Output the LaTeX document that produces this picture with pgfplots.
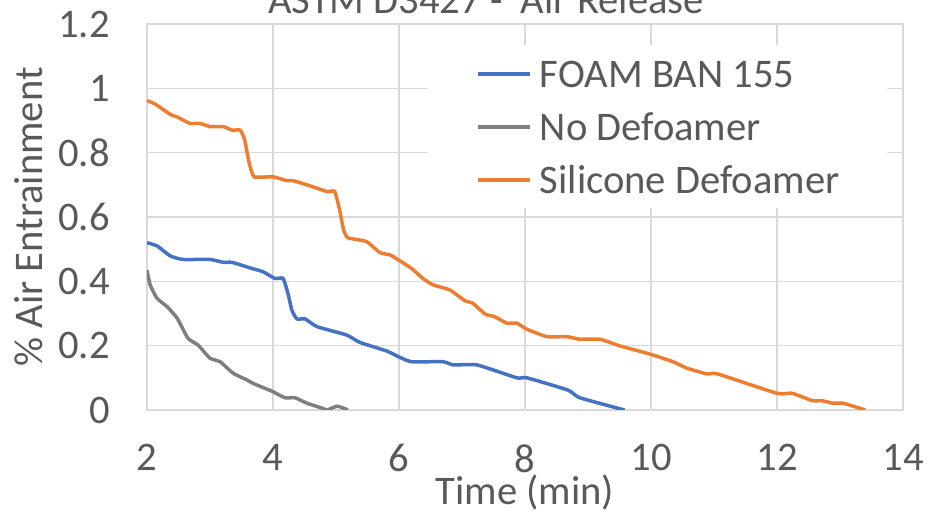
\documentclass[border=0pt]{standalone}
\usepackage{fontspec}
\setmainfont{Carlito}
\usepackage{pgfplots}
\pgfplotsset{compat=1.18}
\definecolor{gridgray}{HTML}{D9D9D9}
\definecolor{txtgray}{HTML}{595959}
\definecolor{sblue}{HTML}{4472C4}
\definecolor{sorange}{HTML}{ED7D31}
\definecolor{sgray}{HTML}{7F7F7F}
\begin{document}
\begin{tikzpicture}[font=\fontsize{20.3}{24}\selectfont]
\pgfplotsset{
  every axis x label/.style={at={(axis description cs:0.5,-0.245)}, anchor=base},
  every axis y label/.style={at={(axis description cs:-0.1376,0.5)}, rotate=90, anchor=base},
  every axis title/.style={at={(axis description cs:0.4484,1.0259)}, anchor=base},
}
\begin{axis}[
  scale only axis,
  width=378pt, height=193pt,
  xmin=2, xmax=14, ymin=0, ymax=1.2,
  xtick={2,4,...,14},
  ytick={0,0.2,...,1.2},
  grid=major,
  grid style={gridgray, line width=0.75pt},
  axis line style={gridgray, line width=0.75pt},
  major tick length=0pt,
  tick label style={txtgray},
  /pgf/number format/assume math mode=true,
  yticklabel style={anchor=east, inner sep=0pt, xshift=-18.5pt},
  xticklabel style={anchor=north, inner sep=0pt, yshift=-17pt},
  label style={txtgray},
  xlabel={Time (min)},
  ylabel={\% Air Entrainment},
  title={ASTM D3427 -\ \ Air Release},
  title style={txtgray},
  legend cell align=left,
  legend image code/.code={\draw[#1, line width=1.75pt] (0pt,0pt) -- (26pt,0pt);},
  legend style={at={(0.3717,0.9456)}, anchor=north west, draw=none, fill=white,
    inner xsep=24pt, inner ysep=1pt, column sep=4pt, row sep=0pt,
    nodes={inner sep=0pt, minimum height=26.5pt, text depth=0pt, text=txtgray}},
  every axis plot/.append style={line width=1.75pt, smooth, tension=0.3, no markers},
]
\addplot[sblue] coordinates {
(2,0.52)(2.16,0.51)(2.37,0.479)(2.57,0.468)(3.0,0.468)(3.21,0.459)(3.35,0.459)
(3.63,0.442)(3.84,0.43)(4.03,0.409)(4.16,0.409)(4.24,0.36)(4.30,0.31)(4.38,0.283)
(4.51,0.283)(4.70,0.259)(5.17,0.233)(5.38,0.21)(5.81,0.183)(6.02,0.163)(6.20,0.15)
(6.70,0.15)(6.86,0.14)(7.24,0.14)(7.87,0.10)(8.03,0.10)(8.68,0.062)(8.87,0.038)(9.58,0)
};
\addlegendentry{FOAM BAN 155}
\addplot[sgray] coordinates {
(2,0.435)(2.05,0.389)(2.16,0.347)(2.32,0.321)(2.48,0.285)(2.65,0.223)(2.81,0.202)
(3.0,0.161)(3.16,0.150)(3.37,0.114)(3.59,0.093)(3.68,0.083)(3.90,0.065)(4.0,0.057)
(4.19,0.038)(4.35,0.038)(4.54,0.021)(4.79,0.005)(4.86,0)(5.02,0.012)(5.19,0)
};
\addlegendentry{No Defoamer}
\addplot[sorange] coordinates {
(2,0.962)(2.13,0.951)(2.37,0.919)(2.49,0.91)(2.68,0.891)(2.84,0.891)(3.0,0.881)
(3.21,0.881)(3.35,0.870)(3.48,0.870)(3.55,0.84)(3.62,0.77)(3.70,0.725)(4.0,0.725)
(4.22,0.713)(4.32,0.713)(4.63,0.694)(4.86,0.679)(4.98,0.679)(5.06,0.62)(5.12,0.56)
(5.18,0.536)(5.3,0.531)(5.49,0.523)(5.70,0.489)(5.86,0.482)(6.02,0.463)(6.20,0.44)
(6.38,0.409)(6.54,0.389)(6.81,0.373)(7.05,0.339)(7.17,0.332)(7.37,0.298)(7.52,0.29)
(7.71,0.27)(7.87,0.27)(8.03,0.251)(8.35,0.228)(8.67,0.228)(8.87,0.22)(9.19,0.22)
(9.51,0.199)(9.98,0.174)(10.35,0.15)(10.57,0.13)(10.89,0.112)(11.06,0.112)(12.0,0.052)
(12.24,0.052)(12.56,0.029)(12.71,0.029)(12.89,0.021)(13.05,0.021)(13.40,0)
};
\addlegendentry{Silicone Defoamer}
\end{axis}
\pgfresetboundingbox
\path[use as bounding box] (-73.5pt,-51pt) rectangle (396pt,205pt);
\end{tikzpicture}
\end{document}
